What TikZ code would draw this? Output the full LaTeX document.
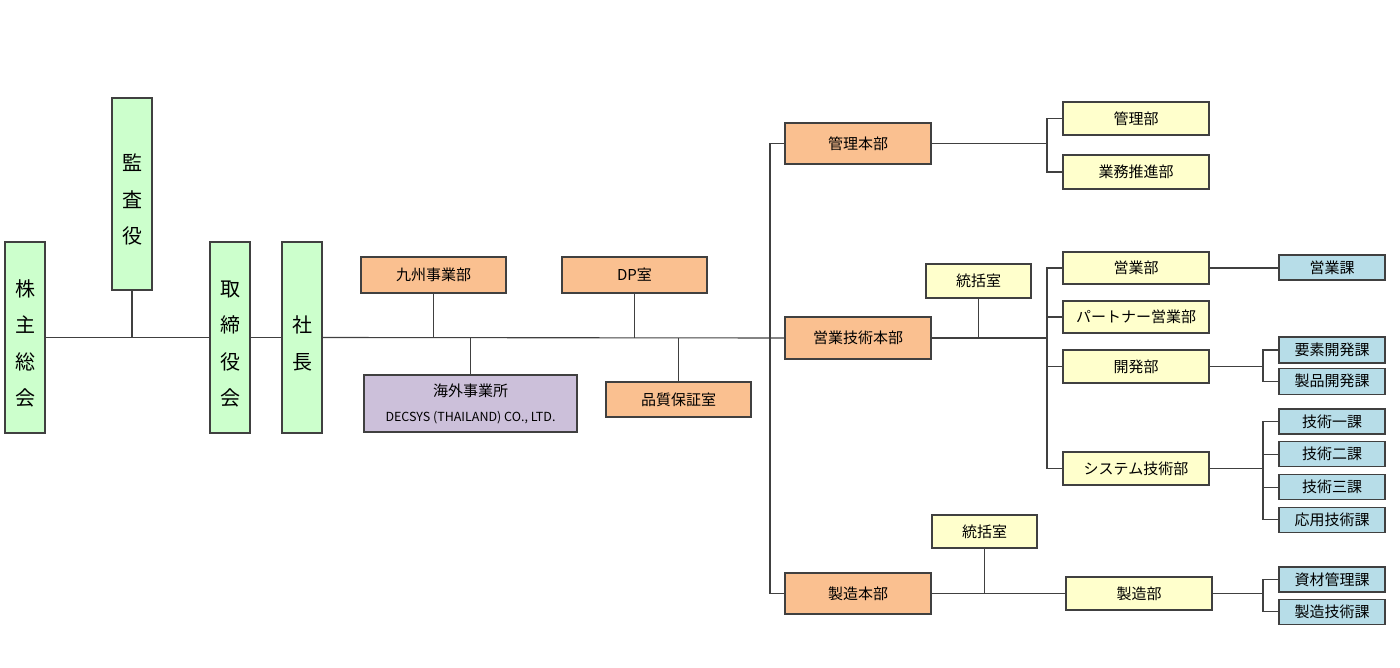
\documentclass[tikz,border=0pt]{standalone}
\usepackage{fontspec}
\setmainfont{Noto Sans CJK JP}
\usepackage{tikz}
\usetikzlibrary{positioning}

\definecolor{boardgreen}{HTML}{CCFFCC}
\definecolor{hqorange}{HTML}{FAC090}
\definecolor{deptyellow}{HTML}{FFFFCC}
\definecolor{sectblue}{HTML}{B7DDE8}
\definecolor{overseaspurple}{HTML}{CCC0DA}
\definecolor{linegray}{HTML}{404040}

% vertical name, set a little low in its box
\newcommand{\tatetext}[1]{\raisebox{-6pt}[\height][\depth]{\begin{tabular}{@{}c@{}}#1\end{tabular}}}

\begin{document}
\begin{tikzpicture}[
            x = 1pt, y = -1pt, % one unit per pixel, y runs down
            node distance = 6pt, % gap between stacked boxes
            semithick % line style
        ]

        \tikzstyle{unit}=[
            draw = linegray,
            line width = 1.3pt,
            inner sep = 0pt,
            align = center,
            font = \fontsize{15}{19}\selectfont
        ]
        \tikzstyle{board}=[unit, fill = boardgreen, minimum width = 40pt, minimum height = 191pt,
            font = \fontsize{20}{36.5}\selectfont]
        \tikzstyle{hq}=[unit, fill = hqorange, minimum width = 146pt, minimum height = 41pt]
        \tikzstyle{staff}=[unit, fill = hqorange, minimum width = 145pt, minimum height = 36pt]
        \tikzstyle{dept}=[unit, fill = deptyellow, minimum width = 146pt, minimum height = 33pt]
        \tikzstyle{office}=[unit, fill = deptyellow, minimum width = 105pt, minimum height = 34pt]
        \tikzstyle{sect}=[unit, fill = sectblue, minimum width = 106pt, minimum height = 25pt]
        \tikzstyle{link}=[draw = linegray, line width = 1.1pt]

        \useasboundingbox (0,0) rectangle (1400,668);

        % top of the company
        \node[board] (kabu) at (25,337.5) {\tatetext{株\\主\\総\\会}};
        \node[board, minimum height = 192pt] (kansa) at (132,194) {\tatetext{監\\査\\役}};
        \node[board] (tori) at (230,337.5) {\tatetext{取\\締\\役\\会}};
        \node[board] (shacho) at (302,337.5) {\tatetext{社\\長}};

        % offices under the president
        \node[staff] (kyushu) at (433.5,275) {九州事業部};
        \node[staff] (dp) at (634.5,275) {DP室};
        \node[unit, fill = overseaspurple, minimum width = 213pt, minimum height = 57pt,
            font = \fontsize{15}{25}\selectfont] (kaigai) at (470.5,403.5)
            {海外事業所\\{\fontsize{12.5}{25}\selectfont DECSYS (THAILAND) CO., LTD.}};
        \node[staff, minimum height = 35pt] (hinshitsu) at (678.5,399.5) {品質保証室};

        % headquarters
        \node[hq] (kanrihq) at (858,143.5) {管理本部};
        \node[hq, minimum height = 42pt] (eigyohq) at (858,338) {営業技術本部};
        \node[hq] (seizohq) at (858,593.5) {製造本部};

        % departments
        \node[dept] (kanri) at (1136,118.5) {管理部};
        \node[dept, minimum height = 34pt] (gyomu) at (1136,172) {業務推進部};
        \node[office] (tokatsu1) at (978.5,281) {統括室};
        \node[dept, minimum height = 32pt] (eigyo) at (1136,268) {営業部};
        \node[dept, minimum height = 32pt] (partner) at (1136,317) {パートナー営業部};
        \node[dept] (kaihatsu) at (1136,366.5) {開発部};
        \node[dept] (system) at (1136,468.5) {システム技術部};
        \node[office, minimum height = 33pt] (tokatsu2) at (984.5,531.5) {統括室};
        \node[dept] (seizo) at (1139,593.5) {製造部};

        % sections
        \node[sect] (eigyoka) at (1332,267.5) {営業課};
        \node[sect, minimum height = 26pt] (yoso) at (1332,350) {要素開発課};
        \node[sect, minimum height = 26pt] (seihin) [below=4pt of yoso] {製品開発課};
        \node[sect] (gijutsu1) at (1332,421.5) {技術一課};
        \node[sect] (gijutsu2) [below=6.5pt of gijutsu1] {技術二課};
        \node[sect] (gijutsu3) [below=6.5pt of gijutsu2] {技術三課};
        \node[sect] (oyo) [below=6.5pt of gijutsu3] {応用技術課};
        \node[sect] (shizai) at (1332,579.5) {資材管理課};
        \node[sect] (seizogi) [below=of shizai] {製造技術課};

        \coordinate (spine) at (770,338);
        \coordinate (fork1) at (1047,143.5);
        \coordinate (fork2) at (1047,338);
        \coordinate (fork3) at (1263,366.5);
        \coordinate (fork4) at (1263,468.5);
        \coordinate (fork5) at (1263,593.5);

        % main line
        \draw[link] (kabu.east) -- (tori.west);
        \draw[link] (tori.east) -- (shacho.west);
        \draw[link] (shacho.east) -- (eigyohq.west);
        \draw[link] (kansa.south) -- (kansa.south |- kabu.east);
        \draw[link] (kyushu.south) -- (kyushu.south |- shacho.east);
        \draw[link] (dp.south) -- (dp.south |- shacho.east);
        \draw[link] (kaigai.north) -- (kaigai.north |- shacho.east);
        \draw[link] (hinshitsu.north) -- (hinshitsu.north |- shacho.east);
        \draw[link] (kanrihq.west) -| (spine) |- (seizohq.west);

        % 管理本部
        \draw[link] (kanrihq.east) -- (fork1);
        \draw[link] (kanri.west) -| (fork1) |- (gyomu.west);

        % 営業技術本部
        \draw[link] (eigyohq.east) -- (fork2);
        \draw[link] (tokatsu1.south) -- (tokatsu1.south |- eigyohq.east);
        \draw[link] (eigyo.west) -| (fork2) |- (system.west);
        \draw[link] (partner.west) -- (partner.west -| fork2);
        \draw[link] (kaihatsu.west) -- (kaihatsu.west -| fork2);
        \draw[link] (eigyo.east) -- (eigyo.east -| eigyoka.west);
        \draw[link] (kaihatsu.east) -- (fork3);
        \draw[link] (yoso.west) -| (fork3) |- (seihin.west);
        \draw[link] (system.east) -- (fork4);
        \draw[link] (gijutsu1.west) -| (fork4) |- (oyo.west);
        \draw[link] (gijutsu2.west) -- (gijutsu2.west -| fork4);
        \draw[link] (gijutsu3.west) -- (gijutsu3.west -| fork4);

        % 製造本部
        \draw[link] (seizohq.east) -- (seizo.west);
        \draw[link] (tokatsu2.south) -- (tokatsu2.south |- seizohq.east);
        \draw[link] (seizo.east) -- (fork5);
        \draw[link] (shizai.west) -| (fork5) |- (seizogi.west);

  \end{tikzpicture}
\end{document}
